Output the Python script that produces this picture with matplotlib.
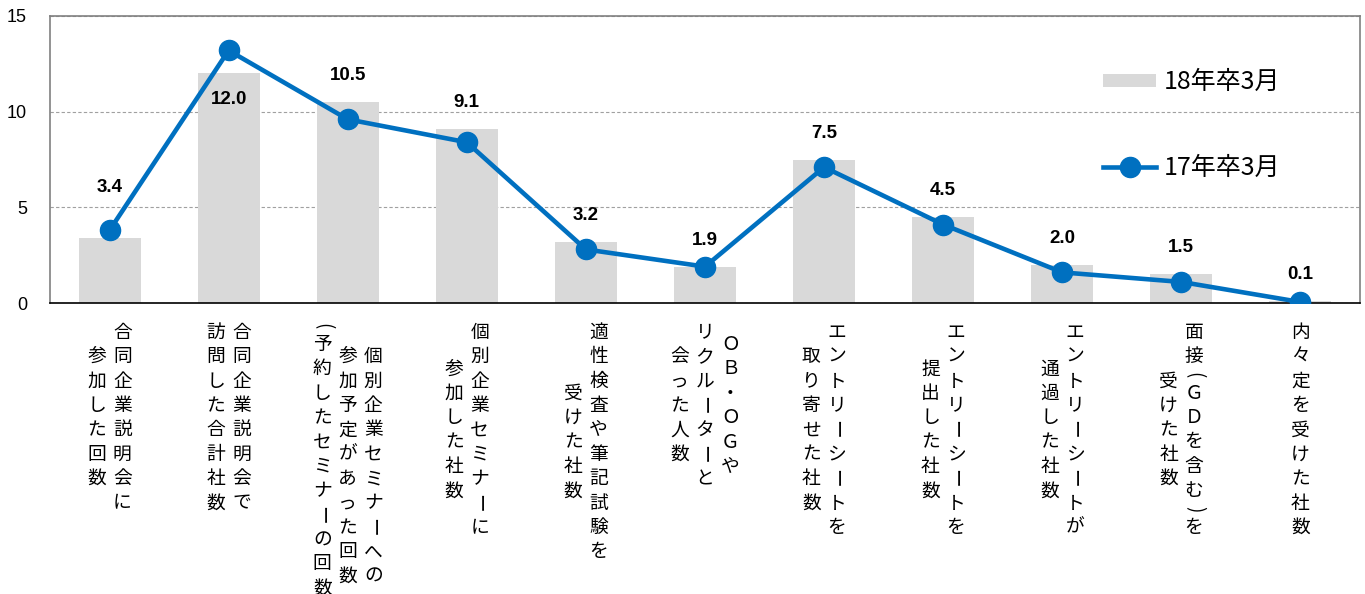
import matplotlib
matplotlib.use('Agg')
from matplotlib import pyplot as plt
from matplotlib.patches import Patch
from matplotlib.lines import Line2D

plt.rcParams['font.family'] = ['Noto Sans CJK JP', 'DejaVu Sans']

# each label is a list of columns, read right to left
labels = [
    ["合同企業説明会に", "参加した回数"],
    ["合同企業説明会で", "訪問した合計社数"],
    ["個別企業セミナーへの", "参加予定があった回数", "(予約したセミナーの回数)"],
    ["個別企業セミナーに", "参加した社数"],
    ["適性検査や筆記試験を", "受けた社数"],
    ["ＯＢ・ＯＧや", "リクルーターと", "会った人数"],
    ["エントリーシートを", "取り寄せた社数"],
    ["エントリーシートを", "提出した社数"],
    ["エントリーシートが", "通過した社数"],
    ["面接(ＧＤを含む)を", "受けた社数"],
    ["内々定を受けた社数"],
]
vals_18 = [3.4, 12.0, 10.5, 9.1, 3.2, 1.9, 7.5, 4.5, 2.0, 1.5, 0.1]
vals_17 = [3.8, 13.2, 9.6, 8.4, 2.8, 1.9, 7.1, 4.1, 1.6, 1.1, 0.05]
name_18 = "18年卒3月"
name_17 = "17年卒3月"

# vertical offsets of the value labels (points above the bar top)
label_dy = [36, -19, 19, 19, 19, 19, 19, 19, 19, 19, 19]

BAR = '#D9D9D9'
BLUE = '#0070C0'
PX = 72 / 100  # points per pixel

fig = plt.figure(figsize=(13.65, 5.94), dpi=100)
ax = fig.add_axes([50 / 1365, 291 / 594, 1310 / 1365, 287 / 594])

x = list(range(len(vals_18)))
ax.bar(x, vals_18, width=0.52, color=BAR, zorder=2)
ax.plot(x, vals_17, color=BLUE, linewidth=3.3, marker='o', markersize=14.5, zorder=3)

for i, v in enumerate(vals_18):
    ax.annotate(f"{v:.1f}", xy=(i, v), xytext=(0, label_dy[i]), textcoords='offset points',
                ha='center', va='center', fontsize=13.5, fontweight='bold',
                family='Liberation Sans', zorder=4)

ax.set_xlim(-0.5, len(vals_18) - 0.5)
ax.set_ylim(0, 15)
ax.set_yticks([0, 5, 10, 15])
ax.set_xticks([])
ax.tick_params(axis='y', length=0, pad=16.5, labelsize=13)
for t in ax.get_yticklabels():
    t.set_family('Liberation Sans')
ax.grid(axis='y', color='#A0A0A0', linestyle=(0, (3, 2)), linewidth=0.8, zorder=0)
for s in ['left', 'top', 'right']:
    ax.spines[s].set_color('#808080')
    ax.spines[s].set_linewidth(1.2)
ax.spines['bottom'].set_color('black')
ax.spines['bottom'].set_linewidth(1.2)

# vertical japanese category labels
step = 24.4
col_gap = 25.5
top = 17
rotated = set("ー()")

def adv(ch):
    return 0.5 if ch in "()" else 1.0

for i, cols in enumerate(labels):
    lens = [sum(adv(c) for c in col) for col in cols]
    longest = max(lens)
    n = len(cols)
    for j, col in enumerate(cols):
        cx = ((n - 1) / 2 - j) * col_gap
        pos = (longest - lens[j]) / 2
        for ch in col:
            a = adv(ch)
            cy = top + (pos + a / 2) * step
            pos += a
            ax.annotate(ch, xy=(i, 0), xycoords=('data', 'axes fraction'),
                        xytext=(cx * PX, -cy * PX), textcoords='offset points',
                        ha='center', va='center', fontsize=13.5,
                        rotation=-90 if ch in rotated else 0,
                        annotation_clip=False)

handles = [Patch(facecolor=BAR, edgecolor='none'),
           Line2D([], [], color=BLUE, linewidth=3.3, marker='o', markersize=14.5)]
ax.legend(handles, [name_18, name_17], loc='upper left', bbox_to_anchor=(0.787, 0.893),
          frameon=False, fontsize=18, handlelength=2.1, handleheight=0.45,
          labelspacing=2.38, handletextpad=0.32)

fig.savefig('out.png', dpi=100)
